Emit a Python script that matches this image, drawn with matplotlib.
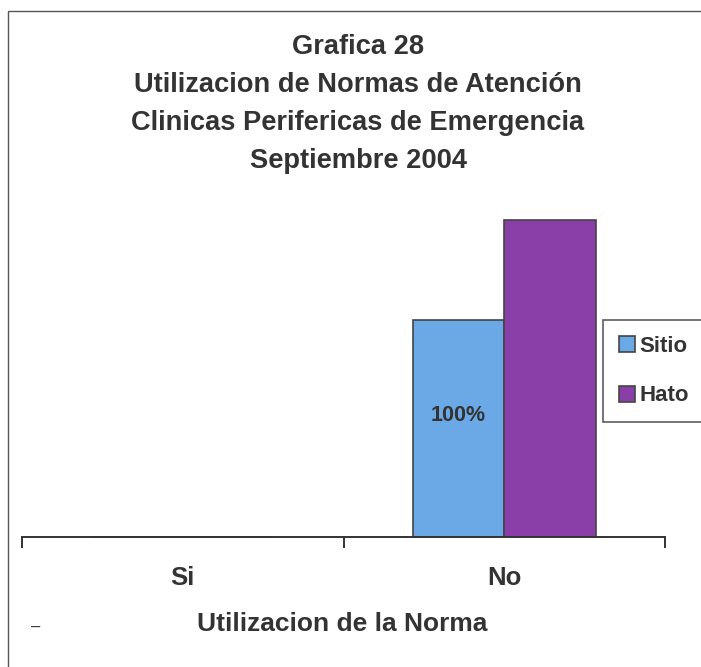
import numpy as np
import matplotlib
matplotlib.use("Agg")
from matplotlib import pyplot as plt
from matplotlib.patches import Rectangle

# Datos de la grafica
categorias = ["Si", "No"]
sitio = [0, 100]
hato = [0, 146]
etiquetas_sitio = ["", "100%"]
titulo = ("Grafica 28\nUtilizacion de Normas de Atención\n"
          "Clinicas Perifericas de Emergencia\nSeptiembre 2004")

plt.rcParams['font.family'] = ['Liberation Sans', 'DejaVu Sans']

fig = plt.figure(figsize=(7.01, 6.67), dpi=100)
W, H = 701, 667
ax = fig.add_axes([22 / W, (H - 537) / H, 643 / W, (537 - 190) / H])

x = np.arange(len(categorias))
ancho = 0.285
ax.bar(x - ancho / 2, sitio, ancho, color="#6aa8e6", edgecolor="#444444",
       linewidth=1.2, label="Sitio")
ax.bar(x + ancho / 2, hato, ancho, color="#8a3fa8", edgecolor="#444444",
       linewidth=1.2, label="Hato")
for i, t in enumerate(etiquetas_sitio):
    if t:
        ax.text(x[i] - ancho / 2, sitio[i] * 0.56, t, ha="center", va="center",
                fontsize=15.5, fontweight="bold", color="#333333")

ax.set_xlim(-0.5, 1.5)
ax.set_ylim(0, 160)
for s in ["top", "right", "left"]:
    ax.spines[s].set_visible(False)
ax.spines["bottom"].set_color("#333333")
ax.spines["bottom"].set_linewidth(1.4)
ax.set_yticks([])
ax.set_xticks(x, labels=categorias)
ax.tick_params(axis="x", which="major", length=0, pad=21, labelsize=18.5,
               colors="#333333")
ax.set_xticks([-0.5, 0.5, 1.5], minor=True)
ax.tick_params(axis="x", which="minor", length=8, width=1.4, direction="out",
               color="#333333")
for lb in ax.get_xticklabels():
    lb.set_fontweight("bold")
ax.set_xlabel("Utilizacion de la Norma", fontsize=19, fontweight="bold",
              color="#333333", va="center")
ax.xaxis.set_label_coords(320 / 643, -(624 - 537) / (537 - 190))

leg = ax.legend(loc="center left", bbox_to_anchor=(603 / W, 1 - 371 / H),
                bbox_transform=fig.transFigure, frameon=True, fancybox=False,
                fontsize=16, handlelength=0.75, handleheight=0.75,
                handletextpad=0.2, labelspacing=1.3, borderpad=0.7,
                borderaxespad=0, edgecolor="#333333")
leg.get_frame().set_linewidth(1.2)
for t in leg.get_texts():
    t.set_fontweight("bold")
    t.set_color("#333333")

fig.text(358 / W, 1 - 104 / H, titulo, ha="center", va="center", fontsize=19.6,
         fontweight="bold", color="#333333", linespacing=1.6)
fig.text(36 / W, 1 - 627 / H, "–", ha="center", va="center", fontsize=12,
         color="#333333")

# marco escaneado (solo bordes izquierdo y superior)
fig.add_artist(Rectangle((8 / W, -0.1), 1.2, 1.1 - 11 / H, transform=fig.transFigure,
                         fill=False, edgecolor="#555555", linewidth=1.0))

fig.savefig("out.png", dpi=100)
